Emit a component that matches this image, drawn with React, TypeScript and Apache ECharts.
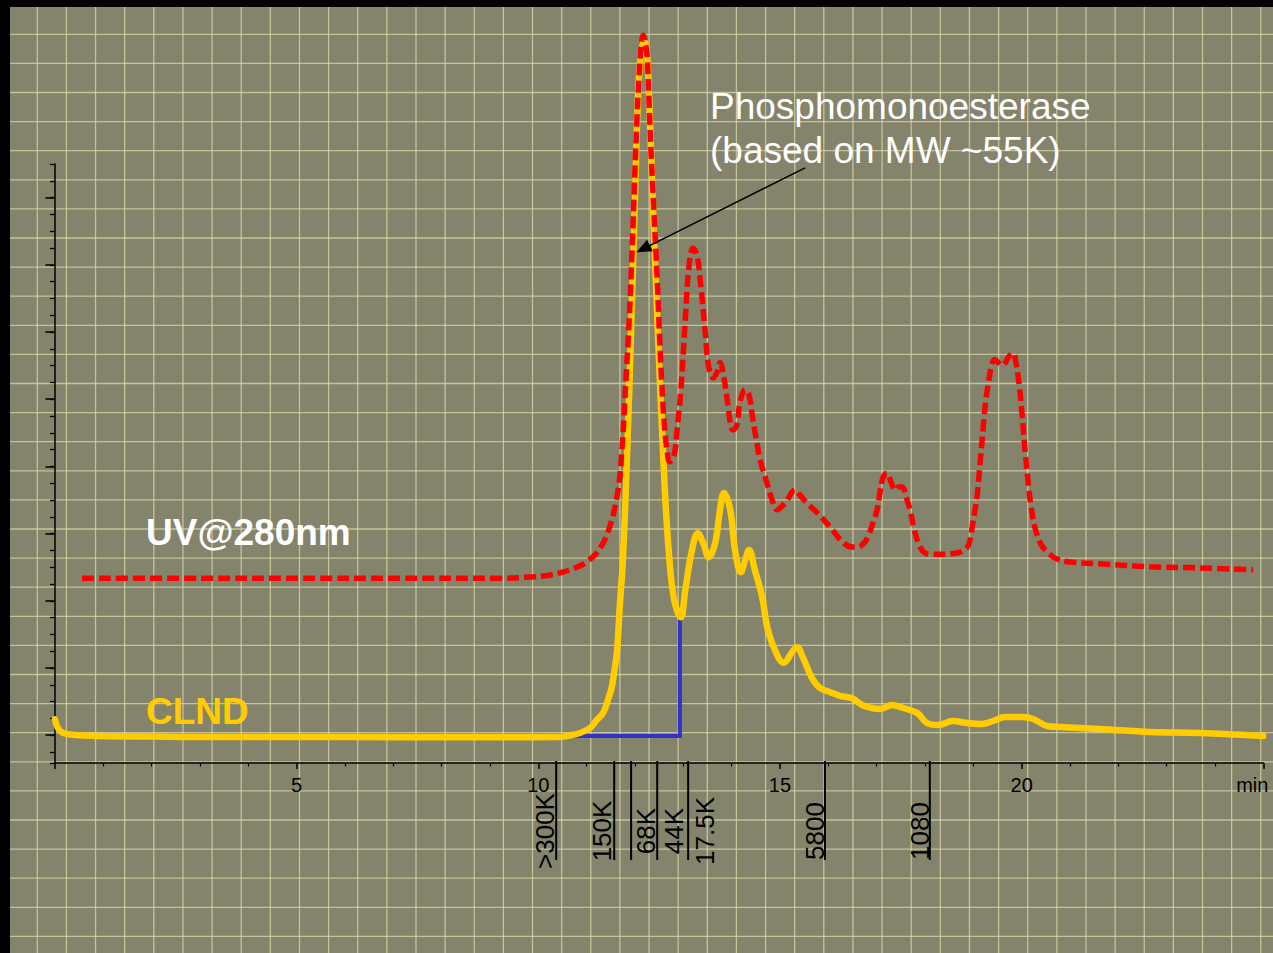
import React, { useEffect, useRef } from "react";
import * as echarts from "echarts";

const W = 1273;
const H = 953;
const FONT = '"Liberation Sans", Arial, sans-serif';

// CLND detector trace: [time (min), signal]
const clndTrace: [number, number][] = [
  [0, 7.3], [0.06, 5.8], [0.17, 5.0], [0.41, 4.67], [0.93, 4.5], [2.0, 4.4], [3.0, 4.33],
  [5.07, 4.33], [7.14, 4.3], [9.21, 4.3], [10.45, 4.33], [10.59, 4.5], [10.86, 5.0],
  [11.07, 5.83], [11.21, 7.17], [11.34, 8.33], [11.44, 10.5], [11.52, 12.67], [11.59, 16.3],
  [11.63, 18.8], [11.69, 26.7], [11.75, 33.8], [11.84, 52.2], [11.92, 72.2], [12.0, 93.8],
  [12.06, 110.5], [12.12, 118], [12.19, 120.3], [12.25, 118], [12.31, 107], [12.39, 88.8],
  [12.48, 70.5], [12.56, 55.5], [12.64, 42.2], [12.73, 32.2], [12.81, 27.2], [12.89, 25],
  [12.95, 24.3], [13.04, 28.8], [13.18, 35.5], [13.3, 38.3], [13.41, 36.7], [13.53, 34.3],
  [13.66, 36.7], [13.76, 42.2], [13.84, 45], [13.97, 42.2], [14.07, 35.5], [14.19, 31.8],
  [14.28, 33.8], [14.36, 35.5], [14.48, 32.2], [14.63, 27.7], [14.75, 22.2], [14.94, 18],
  [15.08, 16.7], [15.25, 18.5], [15.35, 19.3], [15.48, 17.5], [15.66, 14.2], [15.83, 12.5],
  [16.04, 11.8], [16.24, 11.2], [16.49, 10.8], [16.7, 9.67], [16.9, 9.17], [17.07, 9.0],
  [17.32, 9.67], [17.55, 9.17], [17.84, 8.33], [18.04, 6.67], [18.27, 6.33], [18.58, 7.0],
  [18.87, 6.67], [19.18, 6.5], [19.41, 7.0], [19.66, 7.67], [20.03, 7.67], [20.24, 7.33],
  [20.53, 6.17], [20.79, 6.0], [21.62, 5.67], [22.66, 5.17], [23.69, 5.0], [25.0, 4.5],
];

// UV absorbance at 280 nm: [time (min), signal]
const uvTrace: [number, number][] = [
  [0.56, 30.8], [3.0, 30.8], [5.07, 30.8], [7.14, 30.8], [9.21, 30.8], [9.83, 31.0],
  [10.14, 31.2], [10.45, 31.7], [10.76, 32.5], [11.03, 33.7], [11.28, 35.8], [11.49, 39.7],
  [11.65, 45.5], [11.73, 52.2], [11.79, 60.5], [11.88, 73.8], [11.94, 85.5], [12.0, 98.8],
  [12.04, 107.2], [12.08, 113.8], [12.12, 118.8], [12.17, 121.3], [12.21, 120.2], [12.25, 118],
  [12.29, 110.5], [12.33, 102.2], [12.39, 92.2], [12.46, 80.5], [12.54, 65.5], [12.6, 57.2],
  [12.66, 52.2], [12.72, 50.2], [12.81, 51.3], [12.87, 55.5], [12.95, 62.2], [13.04, 73.8],
  [13.12, 83], [13.2, 85.8], [13.28, 84.7], [13.35, 80.5], [13.45, 72.2], [13.52, 66.3],
  [13.62, 64.2], [13.7, 65.2], [13.76, 66.7], [13.84, 64.2], [13.9, 61], [14.03, 55.5],
  [14.11, 56.3], [14.17, 60], [14.28, 62.2], [14.36, 61.3], [14.44, 57.2], [14.53, 53],
  [14.59, 50.5], [14.73, 46.7], [14.84, 43.8], [14.94, 42.2], [15.04, 42.8], [15.15, 43.8],
  [15.25, 45.2], [15.31, 45.5], [15.41, 44.7], [15.56, 43.3], [15.77, 41.7], [16.04, 39.3],
  [16.3, 36.8], [16.49, 36], [16.59, 36], [16.72, 36.5], [16.82, 37.7], [16.93, 40.2],
  [17.01, 42.2], [17.07, 45.2], [17.13, 47.5], [17.21, 48.3], [17.3, 46.8], [17.38, 45.5],
  [17.46, 46], [17.53, 46], [17.61, 44.3], [17.69, 42.2], [17.77, 39.2], [17.86, 36.7],
  [17.96, 35.3], [18.1, 34.8], [18.31, 34.8], [18.66, 35], [18.81, 35.5], [18.91, 36.5],
  [18.99, 40], [19.08, 44.7], [19.14, 50], [19.2, 55.5], [19.26, 60.5], [19.33, 64.2],
  [19.39, 66.7], [19.45, 67.2], [19.51, 66.8], [19.59, 66.3], [19.66, 66.7], [19.74, 67.8],
  [19.82, 68.3], [19.88, 66.8], [19.95, 63], [20.01, 58], [20.07, 52.2], [20.13, 47.2],
  [20.19, 43], [20.26, 39.7], [20.32, 38], [20.42, 36.2], [20.55, 35], [20.73, 34],
  [21.0, 33.5], [21.62, 33.2], [22.66, 32.7], [23.69, 32.5], [24.79, 32.2],
];

// Integration baseline and drop line under the main peak
const integrationBase: [number, number][] = [[10.59, 4.5], [12.93, 4.5], [12.93, 24.3]];

// Molecular-weight calibration markers (elution time, min)
const mwMarkerTimes = [10.37, 11.57, 11.92, 12.46, 13.1, 15.93, 18.1];
const mwLabels = [">300K", "150K", "68K", "44K", "17.5K", "5800", "1080"];
const mwLabelTimes = [10.41, 11.59, 12.5, 13.08, 13.72, 15.99, 18.17];

// Time axis labels
const timeTickLabels: Record<number, string> = { 5: "5", 10: "10", 15: "15", 20: "20" };
const timeUnitLabel = "min";

// Peak annotation arrow: [time, signal]
const arrowFrom: [number, number] = [15.52, 99.2];
const arrowTo: [number, number] = [12.17, 85.7];
const annotationText = ["Phosphomonoesterase", "(based on MW ~55K)"];

const traceNames = { uv: "UV@280nm", clnd: "CLND" };

// Backdrop grid pattern
const BG_STEP_X = 29.13;
const BG_OFFSET_X = 37.3;
const BG_STEP_Y = 29.1;
const BG_OFFSET_Y = 34.3;

function backdrop(): any[] {
  const els: any[] = [];
  const stroke = "rgba(220,220,170,0.72)";
  for (let x = BG_OFFSET_X; x < W; x += BG_STEP_X) {
    els.push({ type: "line", z: 0, silent: true, shape: { x1: x, y1: 0, x2: x, y2: H }, style: { stroke, lineWidth: 1.3 } });
  }
  for (let y = BG_OFFSET_Y; y < H; y += BG_STEP_Y) {
    els.push({ type: "line", z: 0, silent: true, shape: { x1: 0, y1: y, x2: W, y2: y }, style: { stroke, lineWidth: 1.3 } });
  }
  els.push({ type: "rect", z: 1, silent: true, shape: { x: 0, y: 0, width: 10, height: H }, style: { fill: "#000" } });
  els.push({ type: "rect", z: 1, silent: true, shape: { x: 0, y: 0, width: W, height: 7 }, style: { fill: "#000" } });
  return els;
}

export default function App() {
  const ref = useRef<HTMLDivElement>(null);

  useEffect(() => {
    if (!ref.current) return;
    const chart = echarts.init(ref.current, null, { renderer: "svg" });

    const option: any = {
      animation: false,
      backgroundColor: "#84836b",
      grid: [
        { left: 55, right: 9.7, top: 13, bottom: 190 },
        { left: 54.5, width: 20, top: 164, bottom: 190 },
        { left: 54.5, width: 20, top: 197.6, height: 537.6 },
      ],
      xAxis: [
        {
          gridIndex: 0,
          type: "value",
          min: 0,
          max: 25,
          interval: 5,
          axisLine: { show: true, onZero: false, lineStyle: { color: "#000", width: 1.5 } },
          axisTick: { show: true, length: 6, lineStyle: { color: "#000", width: 1.5 } },
          minorTick: { show: true, splitNumber: 5, length: 3.5, lineStyle: { color: "#000", width: 1.2 } },
          splitLine: { show: false },
          minorSplitLine: { show: false },
          axisLabel: {
            show: true,
            margin: 12,
            fontSize: 20,
            color: "#000",
            fontFamily: FONT,
            showMinLabel: true,
            showMaxLabel: true,
            formatter: (v: number) => (v === 25 ? `{m|${timeUnitLabel}}` : timeTickLabels[v] ?? ""),
            rich: { m: { fontSize: 20, color: "#000", fontFamily: FONT, padding: [0, 22, 0, 0] } },
          },
        },
        { gridIndex: 1, type: "value", show: false, min: 0, max: 1 },
        { gridIndex: 2, type: "value", show: false, min: 0, max: 1 },
      ],
      yAxis: [
        { gridIndex: 0, type: "value", min: 0, max: 125, show: false },
        {
          gridIndex: 1,
          type: "value",
          inverse: true,
          min: 0,
          max: 35.65,
          interval: 1,
          axisLine: { show: true, lineStyle: { color: "#000", width: 1.5 } },
          axisTick: { show: true, length: 4.5, lineStyle: { color: "#000", width: 1.3 } },
          axisLabel: { show: false },
          splitLine: { show: false },
        },
        {
          gridIndex: 2,
          type: "value",
          inverse: true,
          min: 0,
          max: 32,
          interval: 4,
          axisLine: { show: false },
          axisTick: { show: true, length: 9, lineStyle: { color: "#000", width: 1.5 } },
          axisLabel: { show: false },
          splitLine: { show: false },
        },
      ],
      series: [
        {
          name: "integration",
          type: "line",
          xAxisIndex: 0,
          yAxisIndex: 0,
          data: integrationBase,
          symbol: "none",
          lineStyle: { color: "#3333cc", width: 4, cap: "butt", join: "miter" },
          z: 2,
          silent: true,
        },
        {
          name: traceNames.clnd,
          type: "line",
          xAxisIndex: 0,
          yAxisIndex: 0,
          data: clndTrace,
          symbol: "none",
          smooth: 0.4,
          clip: false,
          lineStyle: { color: "#ffcc00", width: 6.5, join: "round", cap: "round" },
          z: 3,
          silent: true,
        },
        {
          name: traceNames.uv,
          type: "line",
          xAxisIndex: 0,
          yAxisIndex: 0,
          data: uvTrace,
          symbol: "none",
          smooth: 0.4,
          clip: false,
          lineStyle: { color: "#ff0000", width: 5.5, type: [12, 5] },
          z: 4,
          silent: true,
          markLine: {
            silent: true,
            symbol: ["none", "triangle"],
            symbolSize: [13, 15],
            label: { show: false },
            lineStyle: { color: "#000", width: 1.5, type: "solid" },
            data: [[{ coord: arrowFrom }, { coord: arrowTo }]],
          },
        },
        {
          name: "mw-lines",
          type: "custom",
          xAxisIndex: 0,
          yAxisIndex: 0,
          silent: true,
          z: 5,
          data: mwMarkerTimes.map((t) => [t, 0]),
          renderItem: (_p: any, api: any) => {
            const pt = api.coord([api.value(0), 0]);
            return {
              type: "line",
              shape: { x1: pt[0], y1: pt[1] - 2, x2: pt[0], y2: pt[1] + 97 },
              style: { stroke: "#000", lineWidth: 2 },
            };
          },
        },
        {
          name: "mw-labels",
          type: "custom",
          xAxisIndex: 0,
          yAxisIndex: 0,
          silent: true,
          z: 5,
          data: mwLabelTimes.map((t) => [t, 0]),
          renderItem: (p: any, api: any) => {
            const pt = api.coord([api.value(0), 0]);
            return {
              type: "text",
              x: pt[0],
              y: pt[1] + 68,
              rotation: Math.PI / 2,
              style: {
                text: mwLabels[p.dataIndex],
                fill: "#000",
                font: `26px ${FONT}`,
                align: "center",
                textAlign: "center",
                verticalAlign: "bottom",
                textVerticalAlign: "bottom",
              },
            };
          },
        },
      ],
      graphic: [
        ...backdrop(),
        {
          type: "text",
          z: 20,
          x: 710,
          y: 84,
          silent: true,
          style: {
            text: annotationText.join("\n"),
            fill: "#ffffff",
            font: `37px ${FONT}`,
            lineHeight: 44,
            align: "left",
            verticalAlign: "top",
          },
        },
        {
          type: "text",
          z: 20,
          x: 146,
          y: 532,
          silent: true,
          style: {
            text: traceNames.uv,
            fill: "#ffffff",
            font: `bold 37px ${FONT}`,
            align: "left",
            verticalAlign: "middle",
          },
        },
        {
          type: "text",
          z: 20,
          x: 146,
          y: 711,
          silent: true,
          style: {
            text: traceNames.clnd,
            fill: "#ffcc00",
            font: `bold 37px ${FONT}`,
            align: "left",
            verticalAlign: "middle",
          },
        },
      ],
    };

    chart.setOption(option);
    return () => chart.dispose();
  }, []);

  return (
    <div
      ref={ref}
      style={{ position: "absolute", left: 0, top: 0, width: W, height: H }}
    />
  );
}
